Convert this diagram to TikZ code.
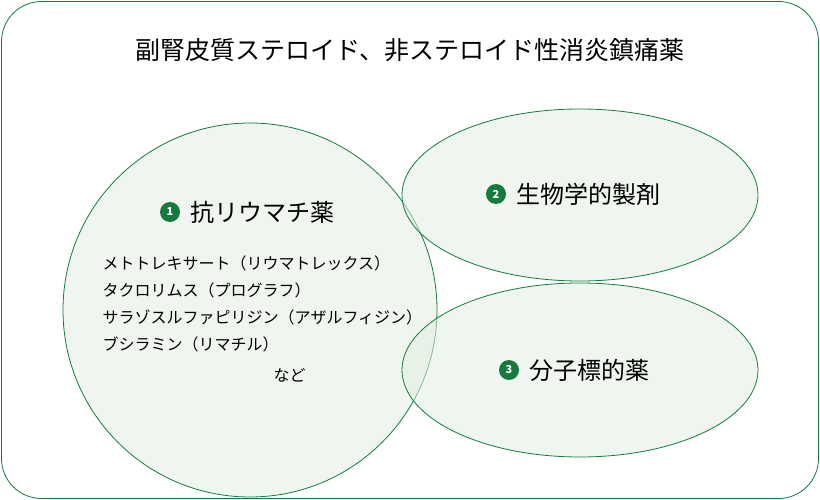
\documentclass[tikz,border=0pt]{standalone}
\usepackage{fontspec}
\setmainfont{Noto Sans CJK JP}
\definecolor{dg}{RGB}{22,122,60}
\definecolor{lg}{RGB}{226,238,226}
\begin{document}
\begin{tikzpicture}[x=1pt,y=-1pt,
  blob/.style={draw=dg,fill=lg,fill opacity=0.55,line width=0.8pt},
  num/.style={circle,fill=dg,text=white,inner sep=0pt,minimum size=20pt,font=\fontsize{11}{13}\selectfont\bfseries},
  big/.style={font=\fontsize{24}{28}\selectfont,anchor=west},
  lst/.style={font=\fontsize{16}{19}\selectfont,anchor=west}]
\useasboundingbox (0,0) rectangle (820,500);
\draw[dg,line width=0.8pt,rounded corners=40pt] (1.5,1.5) rectangle (818.5,498.5);
\node (title) at (410,50) {\fontsize{25}{28}\selectfont 副腎皮質ステロイド、非ステロイド性消炎鎮痛薬};
\path[blob] (250,310) circle (187);
\path[blob] (580,195) ellipse (178 and 86);
\path[blob] (580,370) ellipse (178 and 87);
\node[num] (n1) at (170,212) {1};
\node[big] (t1) at (187,212) {抗リウマチ薬};
\node[num] (n2) at (496,194) {2};
\node[big] (t2) at (513,194) {生物学的製剤};
\node[num] (n3) at (509,370) {3};
\node[big] (t3) at (526,370) {分子標的薬};
\node[lst] (l1) at (99,263) {メトトレキサート（リウマトレックス）};
\node[lst] (l2) at (99,290) {タクロリムス（プログラフ）};
\node[lst] (l3) at (99,317) {サラゾスルファピリジン（アザルフィジン）};
\node[lst] (l4) at (99,344) {ブシラミン（リマチル）};
\node[lst] (l5) at (270,375) {など};
\end{tikzpicture}
\end{document}
